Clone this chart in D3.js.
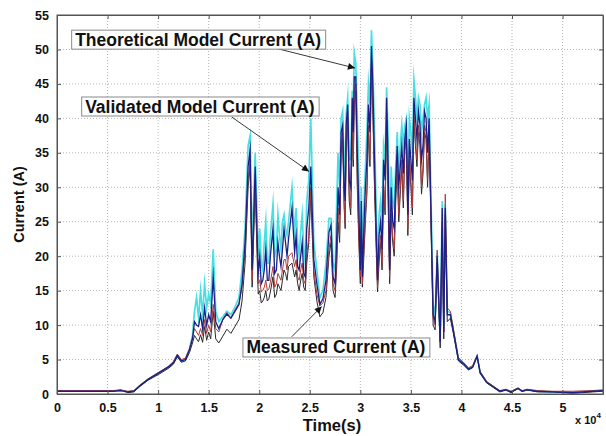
<!DOCTYPE html>
<html>
<head>
<meta charset="utf-8">
<script src="https://cdn.jsdelivr.net/npm/d3@7/dist/d3.min.js"></script>
<style>
  html, body { margin: 0; padding: 0; background: #fff; }
  svg { display: block; font-family: "Liberation Sans", Arial, sans-serif; }
</style>
</head>
<body>
<svg id="chart" width="606" height="436"></svg>
<script>
// ---------- DATA ----------
const timeS = [0,3000,5500,6300,7000,7600,8200,9000,10000,11000,11500,11900,12300,12700,13100,13400,13600,13800,14000,14200,14400,14600,14800,15000,15200,15450,15700,16000,16400,16800,17200,17600,18000,
  18300,18600,18900,19100,19300,19600,19900,
  20050,20200,20350,20500,20650,20800,20950,21100,21360,21530,21700,21850,22000,22150,22300,22450,22600,22750,22900,23240,23500,23650,23800,23950,24100,24250,24400,24550,24700,24900,25100,
  25400,25700,26000,26300,26600,26900,27100,27300,27500,
  27650,27800,27950,28100,28250,28400,28500,28600,28750,28900,29050,29200,29300,29400,29550,29700,29850,30000,30100,30200,30350,30500,30650,30800,30950,31100,31250,31400,31550,31700,31850,32000,32150,32300,32450,32600,32750,32900,33050,33200,33350,33500,33650,33800,33950,34100,34250,34400,34550,34700,34850,35000,35150,35300,35450,35600,35750,35900,36050,36200,36350,36500,36650,36800,
  37050,37200,37400,37600,37900,38100,38250,38400,38600,38900,39200,39700,40200,40700,41100,41550,41850,42500,43100,43800,44400,44900,45600,46000,46500,47500,49000,51000,53000,54000];

const measuredCurrent = [0.4,0.4,0.4,0.6,0.2,0.3,1.1,2.0,2.8,3.7,4.3,5.4,4.6,4.8,6.0,7.4,8.5,8.0,7.6,8.6,7.5,9.8,7.8,9.0,8.0,12.0,8.0,7.4,8.4,9.4,8.8,9.8,10.8,
  13.5,19.0,30.0,33.0,15.5,30.0,14.5,
  15.0,13.2,13.5,14.0,15.0,13.5,13.8,14.8,17.0,14.0,14.5,16.0,15.5,15.0,16.5,18.0,17.5,16.5,18.5,19.0,17.0,18.0,16.0,15.0,16.5,17.5,15.5,15.0,19.0,22.0,29.0,
  17.0,13.5,11.2,11.8,14.0,20.0,22.0,15.0,14.0,
  18.0,25.0,22.0,35.0,37.0,27.0,24.0,36.0,40.0,28.0,26.0,38.0,33.0,42.0,44.0,30.0,22.0,16.0,24.0,15.5,20.0,25.0,29.0,38.0,33.0,48.0,40.0,30.0,22.0,14.8,19.0,22.0,18.0,30.0,26.0,40.0,28.0,16.0,26.0,22.0,20.0,28.0,33.0,25.0,29.0,33.0,27.0,35.0,38.0,23.0,34.0,30.0,26.0,40.0,36.0,33.0,38.0,36.0,29.0,32.0,38.0,37.0,30.0,38.0,
  20.0,10.0,9.3,19.0,6.7,24.0,8.0,26.0,10.5,11.0,8.8,4.8,4.2,3.5,3.8,5.4,3.0,1.6,1.0,0.3,0.6,0.2,0.8,0.4,0.6,0.3,0.3,0.1,0.3,0.4];

const simulatedCurrent = [0.5,0.5,0.5,0.6,0.4,0.5,1.3,2.2,3.1,4.0,4.7,5.8,5.0,5.2,6.6,8.2,9.5,9.0,8.5,9.5,8.5,10.8,8.8,10.0,9.0,13.0,9.5,9.0,10.8,11.8,11.0,12.2,13.2,
  15.5,20.5,31.0,34.0,16.5,31.0,16.0,
  16.5,14.8,15.0,15.5,16.5,15.0,15.2,16.2,18.5,15.5,16.0,17.5,17.0,16.5,18.0,19.5,19.5,18.0,20.0,20.5,18.5,19.5,17.0,16.5,18.0,19.0,16.5,16.0,20.0,23.0,30.0,
  18.0,14.5,12.8,13.2,15.0,21.0,23.0,16.0,15.0,
  19.0,27.0,23.0,36.0,38.0,28.0,25.0,37.0,41.0,29.0,27.0,40.0,34.0,44.0,45.0,31.0,23.0,17.0,25.0,16.0,21.0,26.0,30.0,39.0,34.0,49.0,41.0,31.0,23.0,15.5,20.0,23.0,19.0,31.0,27.0,41.0,29.0,17.0,27.0,23.0,21.0,29.0,34.0,26.0,30.0,34.0,28.0,36.0,38.5,24.0,35.0,31.0,27.0,41.0,37.0,34.0,39.0,37.0,30.0,33.0,39.0,38.0,31.0,39.0,
  21.0,11.0,10.0,20.9,7.5,25.0,9.0,29.0,12.5,12.0,9.5,5.3,4.6,3.8,4.1,5.6,3.3,1.8,1.2,0.5,0.7,0.4,0.9,0.5,0.7,0.5,0.4,0.4,0.5,0.6];

const validatedCurrent = [0.4,0.4,0.4,0.5,0.3,0.4,1.2,2.1,3.0,3.9,4.5,5.6,4.8,5.0,6.4,8.0,10.5,10.0,9.8,11.5,9.5,12.5,10.0,11.5,10.5,17.0,10.5,9.5,10.8,11.6,11.0,12.0,13.0,
  16.0,22.0,33.0,35.5,18.0,33.0,17.5,
  20.0,16.0,16.5,18.0,21.0,16.5,16.5,20.0,24.0,17.5,18.0,22.0,20.0,18.5,21.0,24.0,22.0,20.0,22.5,27.0,20.5,23.0,18.5,18.0,20.0,22.0,17.5,17.0,24.0,27.0,33.0,
  19.5,16.0,13.0,13.8,16.5,23.5,24.5,17.0,16.0,
  22.0,30.0,26.0,38.0,39.0,30.0,28.0,39.0,42.0,31.0,30.0,43.0,38.0,46.0,46.0,35.0,27.0,18.0,28.0,17.0,24.0,30.0,34.0,42.0,38.0,50.5,44.0,34.0,25.0,16.5,23.0,25.0,21.0,34.0,31.0,43.0,33.0,18.0,30.0,25.0,24.0,31.0,36.0,30.0,33.0,36.0,32.0,37.0,39.0,26.0,37.0,34.0,31.0,43.0,40.0,37.0,41.0,39.0,34.0,36.0,41.0,40.0,35.0,40.0,
  22.0,11.5,10.5,20.0,7.5,27.0,9.0,27.0,11.5,11.5,9.2,5.0,4.4,3.6,3.9,5.5,3.1,1.7,1.1,0.4,0.6,0.3,0.8,0.4,0.6,0.4,0.3,0.2,0.4,0.5];

const theoreticalCurrent = [0.4,0.4,0.4,0.5,0.3,0.4,1.2,2.1,3.0,3.9,4.5,5.6,4.8,5.0,6.5,8.5,12.0,14.0,11.0,15.0,11.5,16.0,12.5,14.5,13.0,21.0,12.0,10.5,11.2,12.0,11.5,12.6,14.0,
  18.0,24.0,36.0,37.5,21.0,35.0,20.0,
  24.0,19.0,18.0,22.0,25.0,19.0,19.0,23.0,27.5,20.0,21.0,26.0,23.0,21.0,25.0,26.0,24.0,23.0,25.0,30.0,23.0,27.0,22.0,20.0,23.5,26.0,21.0,19.0,28.0,31.0,40.0,
  22.0,18.0,14.0,15.0,19.0,25.5,25.5,19.0,18.0,
  27.0,35.0,30.0,40.0,41.0,33.0,31.0,40.5,43.0,34.0,34.0,44.0,42.0,49.5,48.0,40.0,31.0,20.0,30.0,19.0,27.0,33.0,38.0,45.0,42.0,52.8,47.0,38.0,28.0,18.0,26.0,28.0,24.0,36.0,34.0,44.5,37.0,20.0,33.0,28.0,27.0,33.0,38.0,32.0,36.0,39.0,36.0,39.0,40.0,28.0,40.0,38.0,35.0,45.6,43.0,40.0,43.0,42.0,38.0,40.0,42.0,43.0,40.0,42.0,
  24.0,13.0,11.5,20.5,8.0,28.0,10.0,27.5,12.0,11.8,9.2,5.0,4.4,3.6,3.9,5.5,3.1,1.7,1.1,0.4,0.6,0.3,0.8,0.4,0.6,0.4,0.3,0.3,0.4,0.5];

const xTicks = [0,5000,10000,15000,20000,25000,30000,35000,40000,45000,50000];
const xTickLabels = ["0","0.5","1","1.5","2","2.5","3","3.5","4","4.5","5"];
const yTicks = [0,5,10,15,20,25,30,35,40,45,50,55];

const annotationLabels = ["Theoretical Model Current (A)","Validated Model Current (A)","Measured Current (A)"];
const annotationBoxTime = [1450, 2440, 18390];
const annotationBoxCurrent = [52.8, 43.1, 8.13];
const annotationTailTime = [21560, 17280, 23210];
const annotationTailCurrent = [50.2, 40.2, 8.3];
const annotationTipTime = [29470, 24920, 26180];
const annotationTipCurrent = [47.3, 32.3, 12.7];

// ---------- LAYOUT ----------
const svg = d3.select("#chart");
const m = {left: 57, right: 3, top: 15, bottom: 42};
const W = 606, H = 436;
const x = d3.scaleLinear().domain([0, 54000]).range([m.left, W - m.right]);
const y = d3.scaleLinear().domain([0, 55]).range([H - m.bottom, m.top]);

svg.append("rect").attr("width", W).attr("height", H).attr("fill", "#fff");

// grid
const grid = svg.append("g");
grid.selectAll(".gx").data(xTicks.slice(1)).enter().append("line")
  .attr("x1", d => x(d)).attr("x2", d => x(d))
  .attr("y1", y(0)).attr("y2", y(55))
  .attr("stroke", "#b4b4b4").attr("stroke-width", 1).attr("stroke-dasharray", "1,2");
grid.selectAll(".gy").data(yTicks.slice(1, -1)).enter().append("line")
  .attr("x1", x(0)).attr("x2", x(54000))
  .attr("y1", d => y(d)).attr("y2", d => y(d))
  .attr("stroke", "#b4b4b4").attr("stroke-width", 1).attr("stroke-dasharray", "1,2");

// series
const n = Math.min(timeS.length, measuredCurrent.length, simulatedCurrent.length, validatedCurrent.length, theoreticalCurrent.length);
const idx = d3.range(n);
function line(vals) {
  return d3.line().x(i => x(timeS[i])).y(i => y(vals[i]))(idx);
}
const series = [
  {v: theoreticalCurrent, c: "#48dfe3", w: 1.7},
  {v: measuredCurrent, c: "#2a2a2a", w: 1.0},
  {v: simulatedCurrent, c: "#b03a3a", w: 1.0},
  {v: validatedCurrent, c: "#1c1f8a", w: 1.3}
];
svg.append("clipPath").attr("id", "clip").append("rect")
  .attr("x", x(0)).attr("y", y(55)).attr("width", x(54000) - x(0)).attr("height", y(0) - y(55));
const lines = svg.append("g").attr("clip-path", "url(#clip)");
series.forEach(s => {
  lines.append("path").attr("d", line(s.v)).attr("fill", "none")
    .attr("stroke", s.c).attr("stroke-width", s.w).attr("stroke-linejoin", "miter").attr("stroke-miterlimit", 20);
});

// axes
const axisColor = "#555";
const xAxisB = svg.append("g").attr("transform", `translate(0,${y(0)})`)
  .call(d3.axisBottom(x).tickValues(xTicks).tickFormat((d, i) => xTickLabels[i]).tickSizeInner(-4).tickSizeOuter(0).tickPadding(9));
const xAxisT = svg.append("g").attr("transform", `translate(0,${y(55)})`)
  .call(d3.axisTop(x).tickValues(xTicks).tickFormat("").tickSizeInner(-4).tickSizeOuter(0));
const yAxisL = svg.append("g").attr("transform", `translate(${x(0)},0)`)
  .call(d3.axisLeft(y).tickValues(yTicks).tickSizeInner(-4).tickSizeOuter(0).tickPadding(8));
const yAxisR = svg.append("g").attr("transform", `translate(${x(54000)},0)`)
  .call(d3.axisRight(y).tickValues(yTicks).tickFormat("").tickSizeInner(-4).tickSizeOuter(0));
[xAxisB, xAxisT, yAxisL, yAxisR].forEach(g => {
  g.selectAll("path").attr("stroke", axisColor);
  g.selectAll("line").attr("stroke", axisColor);
  g.selectAll("text").attr("fill", "#111").style("font-size", "12.5px").style("font-weight", "bold")
    .style("font-family", '"Liberation Sans", Arial, sans-serif');
});
svg.append("rect").attr("x", x(0)).attr("y", y(55)).attr("width", x(54000) - x(0)).attr("height", y(0) - y(55))
  .attr("fill", "none").attr("stroke", axisColor).attr("stroke-width", 1);

// axis titles
svg.append("text").attr("transform", `translate(24,${(y(0) + y(55)) / 2}) rotate(-90)`)
  .attr("text-anchor", "middle").style("font-size", "14.5px").style("font-weight", "bold").attr("fill", "#111")
  .text("Current (A)");
svg.append("text").attr("x", (x(0) + x(54000)) / 2 + 2).attr("y", 431)
  .attr("text-anchor", "middle").style("font-size", "16.5px").style("font-weight", "bold").attr("fill", "#111")
  .text("Time(s)");
const mult = svg.append("text").attr("x", 575).attr("y", 424).style("font-size", "11px").style("font-weight", "bold").attr("fill", "#111");
mult.append("tspan").text("x 10");
mult.append("tspan").attr("dy", -6).style("font-size", "8px").text("4");

// annotations
svg.append("defs").append("marker").attr("id", "arrow").attr("viewBox", "0 0 10 10")
  .attr("refX", 10).attr("refY", 5).attr("markerWidth", 9).attr("markerHeight", 7)
  .attr("markerUnits", "userSpaceOnUse").attr("orient", "auto")
  .append("path").attr("d", "M0,0 L10,5 L0,10 z").attr("fill", "#111");

annotationLabels.forEach((lab, i) => {
  svg.append("line")
    .attr("x1", x(annotationTailTime[i])).attr("y1", y(annotationTailCurrent[i]))
    .attr("x2", x(annotationTipTime[i])).attr("y2", y(annotationTipCurrent[i]))
    .attr("stroke", "#222").attr("stroke-width", 0.9).attr("marker-end", "url(#arrow)");
  const g = svg.append("g");
  const bx = x(annotationBoxTime[i]), by = y(annotationBoxCurrent[i]);
  const rect = g.append("rect").attr("fill", "#fff").attr("stroke", "#8a8a8a").attr("stroke-width", 1);
  const t = g.append("text").attr("x", bx + 3.5).attr("y", by + 15.5)
    .style("font-size", "17.5px").style("font-weight", "bold").attr("fill", "#111").text(lab);
  const bb = t.node().getBBox();
  rect.attr("x", bx).attr("y", by).attr("width", bb.width + 8).attr("height", 19);
});
</script>
</body>
</html>
